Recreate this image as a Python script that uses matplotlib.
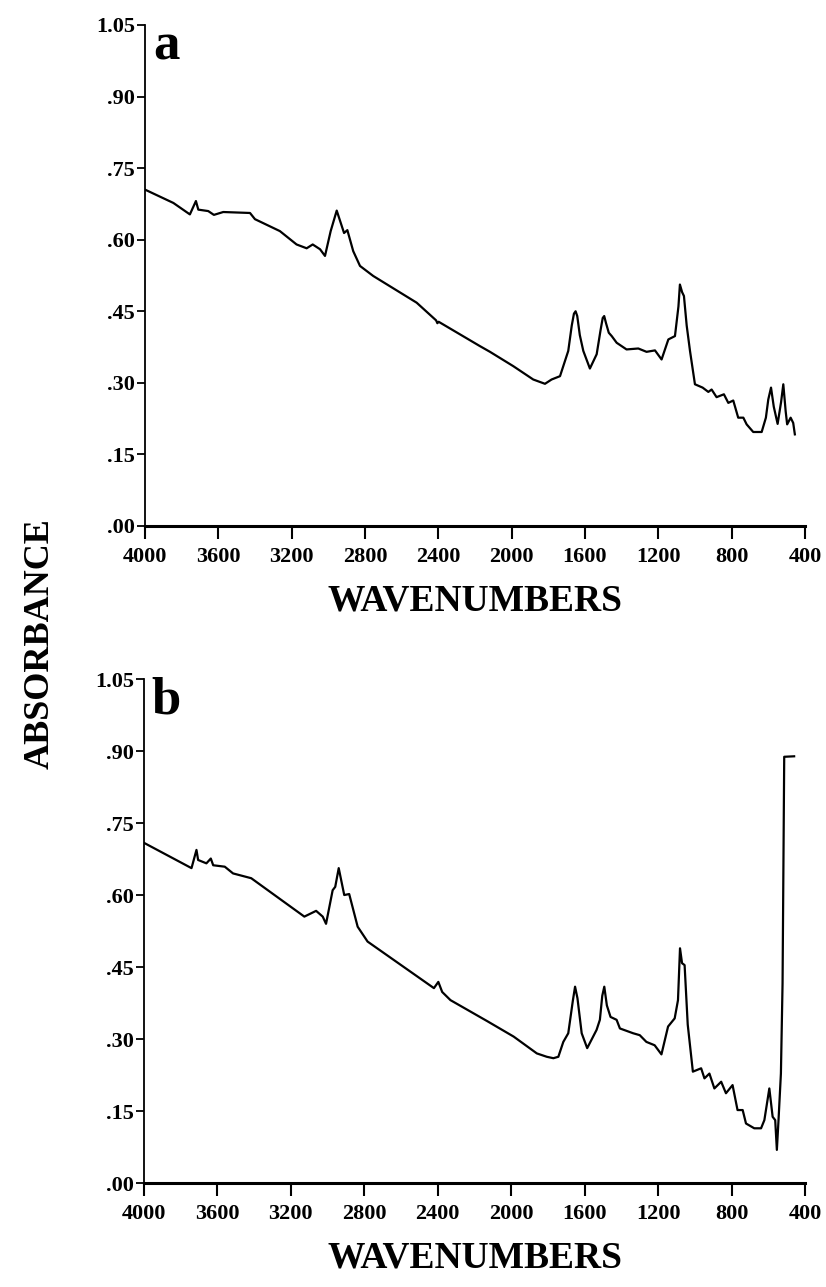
import matplotlib
matplotlib.use("Agg")
import matplotlib.pyplot as plt

# IR spectra, two samples (a, b)

wn_a = [4000, 3845, 3755, 3722, 3709, 3655, 3624, 3573, 3427, 3400, 3264, 3173,
        3118, 3085, 3045, 3018, 2987, 2954, 2914, 2896, 2864, 2827, 2755, 2518,
        2412, 2405, 2398, 2173, 2118, 1991, 1882, 1818, 1782, 1736, 1691, 1672,
        1660, 1651, 1642, 1628, 1609, 1573, 1536, 1515, 1503, 1495, 1485, 1470,
        1454, 1427, 1373, 1309, 1264, 1218, 1182, 1145, 1109, 1090, 1082, 1070,
        1060, 1045, 1027, 1000, 958, 927, 909, 882, 842, 818, 791, 764, 736, 718,
        682, 636, 613, 600, 585, 570, 549, 530, 518, 505, 497, 478, 464, 455]
abs_a = [0.705, 0.677, 0.653, 0.681, 0.663, 0.660, 0.652, 0.658, 0.656, 0.643, 0.618, 0.590,
         0.582, 0.590, 0.580, 0.566, 0.618, 0.661, 0.614, 0.620, 0.576, 0.545, 0.524, 0.468,
         0.431, 0.425, 0.428, 0.377, 0.365, 0.335, 0.307, 0.298, 0.307, 0.314, 0.367, 0.420,
         0.445, 0.450, 0.440, 0.400, 0.367, 0.330, 0.360, 0.410, 0.436, 0.440, 0.425, 0.405,
         0.398, 0.384, 0.370, 0.372, 0.365, 0.368, 0.349, 0.391, 0.398, 0.460, 0.506, 0.490,
         0.482, 0.420, 0.367, 0.297, 0.290, 0.281, 0.286, 0.270, 0.276, 0.258, 0.263, 0.227,
         0.227, 0.213, 0.197, 0.197, 0.227, 0.265, 0.290, 0.250, 0.214, 0.260, 0.297, 0.240,
         0.213, 0.227, 0.216, 0.192]

wn_b = [4000, 3740, 3713, 3704, 3659, 3635, 3622, 3559, 3514, 3415, 3126, 3062,
        3026, 3008, 2972, 2958, 2939, 2909, 2882, 2836, 2782, 2421, 2397, 2376,
        2331, 2130, 1987, 1861, 1807, 1771, 1744, 1717, 1690, 1665, 1653, 1640,
        1617, 1587, 1536, 1518, 1505, 1494, 1480, 1460, 1427, 1409, 1337, 1301,
        1265, 1220, 1183, 1147, 1111, 1093, 1082, 1071, 1057, 1040, 1012, 967, 949,
        922, 895, 858, 832, 796, 769, 741, 723, 678, 641, 623, 596, 578, 564, 555,
        546, 533, 524, 515, 461]
abs_b = [0.709, 0.656, 0.694, 0.673, 0.666, 0.676, 0.662, 0.659, 0.645, 0.635, 0.555, 0.567,
         0.555, 0.540, 0.610, 0.617, 0.656, 0.600, 0.602, 0.534, 0.503, 0.406, 0.419, 0.398,
         0.381, 0.337, 0.305, 0.270, 0.263, 0.260, 0.263, 0.294, 0.312, 0.380, 0.409, 0.385,
         0.312, 0.281, 0.319, 0.340, 0.390, 0.409, 0.370, 0.346, 0.340, 0.322, 0.312, 0.308,
         0.294, 0.287, 0.268, 0.326, 0.343, 0.381, 0.489, 0.458, 0.454, 0.330, 0.232, 0.239,
         0.218, 0.228, 0.197, 0.211, 0.187, 0.204, 0.152, 0.152, 0.124, 0.114, 0.114, 0.131,
         0.197, 0.138, 0.131, 0.069, 0.131, 0.228, 0.416, 0.888, 0.889]

xticks = [4000, 3600, 3200, 2800, 2400, 2000, 1600, 1200, 800, 400]
yticks = [0.0, 0.15, 0.30, 0.45, 0.60, 0.75, 0.90, 1.05]
ytick_labels = ['.00', '.15', '.30', '.45', '.60', '.75', '.90', '1.05']

serif = ['Liberation Serif', 'DejaVu Serif']
plt.rcParams['font.family'] = serif
plt.rcParams['font.weight'] = 'bold'

fig = plt.figure(figsize=(8.26, 12.87), dpi=100)
ax_a = fig.add_axes([0.1755, 0.5913, 0.799, 0.3893])
ax_b = fig.add_axes([0.1740, 0.0808, 0.801, 0.3916])

for ax, wn, ab, tag in [(ax_a, wn_a, abs_a, 'a'), (ax_b, wn_b, abs_b, 'b')]:
    ax.plot(wn, ab, color='black', lw=1.6, solid_joinstyle='round')
    ax.set_xlim(4000, 400)
    ax.set_ylim(0, 1.05)
    ax.set_xticks(xticks)
    ax.set_xticklabels([str(t) for t in xticks], fontsize=16, fontweight='bold')
    ax.set_yticks(yticks)
    ax.set_yticklabels(ytick_labels, fontsize=16, fontweight='bold')
    ax.spines['top'].set_visible(False)
    ax.spines['right'].set_visible(False)
    ax.spines['left'].set_linewidth(1.3)
    ax.spines['bottom'].set_linewidth(2.2)
    ax.tick_params(axis='y', direction='out', length=6, width=1.3, pad=1)
    ax.tick_params(axis='x', direction='out', length=9, width=1.5, pad=6)
    ax.set_xlabel('WAVENUMBERS', fontsize=27, fontweight='bold', labelpad=12)
    ax.text(0.012, 1.005, tag, transform=ax.transAxes, fontsize=38,
            fontweight='bold', va='top', ha='left')

fig.text(0.048, 0.5, 'ABSORBANCE', rotation=90, fontsize=26, fontweight='bold',
         va='center', ha='center')

fig.savefig('out.png', dpi=100)
plt.close(fig)
